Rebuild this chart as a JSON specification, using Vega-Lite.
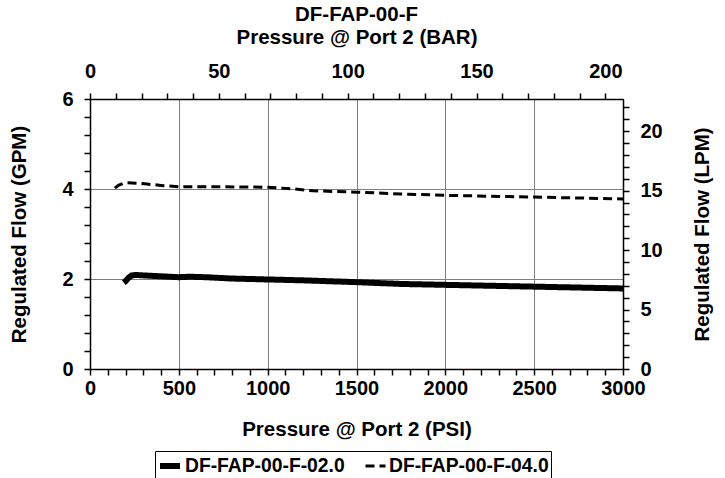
{
  "$schema": "https://vega.github.io/schema/vega-lite/v6.json",
  "width": 533,
  "height": 270,
  "autosize": "none",
  "padding": {"left": 90, "top": 99, "right": 102, "bottom": 109},
  "background": "white",
  "config": {
    "font": "Liberation Sans",
    "view": {"stroke": "black", "strokeWidth": 1},
    "axis": {
      "labelFont": "Liberation Sans",
      "labelFontWeight": "bold",
      "labelFontSize": 20,
      "labelColor": "black",
      "titleFont": "Liberation Sans",
      "titleFontWeight": "bold",
      "titleFontSize": 20.5,
      "titleColor": "black",
      "domainColor": "black",
      "domainWidth": 1.5,
      "labelOverlap": false,
      "labelFlush": false
    }
  },
  "title": {
    "text": "DF-FAP-00-F",
    "font": "Liberation Sans",
    "fontSize": 20.5,
    "fontWeight": "bold",
    "color": "black",
    "offset": 2
  },
  "datasets": {
    "flow": [
      {"series": "DF-FAP-00-F-02.0", "psi": 190, "gpm": 1.92},
      {"series": "DF-FAP-00-F-02.0", "psi": 200, "gpm": 1.95},
      {"series": "DF-FAP-00-F-02.0", "psi": 215, "gpm": 2.02},
      {"series": "DF-FAP-00-F-02.0", "psi": 235, "gpm": 2.08},
      {"series": "DF-FAP-00-F-02.0", "psi": 260, "gpm": 2.09},
      {"series": "DF-FAP-00-F-02.0", "psi": 300, "gpm": 2.08},
      {"series": "DF-FAP-00-F-02.0", "psi": 400, "gpm": 2.06},
      {"series": "DF-FAP-00-F-02.0", "psi": 500, "gpm": 2.04},
      {"series": "DF-FAP-00-F-02.0", "psi": 560, "gpm": 2.05},
      {"series": "DF-FAP-00-F-02.0", "psi": 650, "gpm": 2.04},
      {"series": "DF-FAP-00-F-02.0", "psi": 800, "gpm": 2.01},
      {"series": "DF-FAP-00-F-02.0", "psi": 1000, "gpm": 1.99},
      {"series": "DF-FAP-00-F-02.0", "psi": 1200, "gpm": 1.97},
      {"series": "DF-FAP-00-F-02.0", "psi": 1500, "gpm": 1.93},
      {"series": "DF-FAP-00-F-02.0", "psi": 1750, "gpm": 1.89},
      {"series": "DF-FAP-00-F-02.0", "psi": 2000, "gpm": 1.87},
      {"series": "DF-FAP-00-F-02.0", "psi": 2250, "gpm": 1.85},
      {"series": "DF-FAP-00-F-02.0", "psi": 2500, "gpm": 1.83},
      {"series": "DF-FAP-00-F-02.0", "psi": 2750, "gpm": 1.81},
      {"series": "DF-FAP-00-F-02.0", "psi": 3000, "gpm": 1.79},
      {"series": "DF-FAP-00-F-04.0", "psi": 140, "gpm": 4.02},
      {"series": "DF-FAP-00-F-04.0", "psi": 160, "gpm": 4.08},
      {"series": "DF-FAP-00-F-04.0", "psi": 185, "gpm": 4.12},
      {"series": "DF-FAP-00-F-04.0", "psi": 210, "gpm": 4.14},
      {"series": "DF-FAP-00-F-04.0", "psi": 260, "gpm": 4.13},
      {"series": "DF-FAP-00-F-04.0", "psi": 320, "gpm": 4.11},
      {"series": "DF-FAP-00-F-04.0", "psi": 400, "gpm": 4.08},
      {"series": "DF-FAP-00-F-04.0", "psi": 500, "gpm": 4.05},
      {"series": "DF-FAP-00-F-04.0", "psi": 700, "gpm": 4.05},
      {"series": "DF-FAP-00-F-04.0", "psi": 1000, "gpm": 4.04},
      {"series": "DF-FAP-00-F-04.0", "psi": 1150, "gpm": 4.0},
      {"series": "DF-FAP-00-F-04.0", "psi": 1255, "gpm": 3.96},
      {"series": "DF-FAP-00-F-04.0", "psi": 1500, "gpm": 3.93},
      {"series": "DF-FAP-00-F-04.0", "psi": 1750, "gpm": 3.89},
      {"series": "DF-FAP-00-F-04.0", "psi": 2000, "gpm": 3.86},
      {"series": "DF-FAP-00-F-04.0", "psi": 2250, "gpm": 3.84},
      {"series": "DF-FAP-00-F-04.0", "psi": 2500, "gpm": 3.82},
      {"series": "DF-FAP-00-F-04.0", "psi": 2750, "gpm": 3.8},
      {"series": "DF-FAP-00-F-04.0", "psi": 3000, "gpm": 3.78}
    ],
    "secondary": [
      {"bar": 0, "lpm": 0},
      {"bar": 206.84, "lpm": 22.71}
    ]
  },
  "layer": [
    {
      "data": {"name": "flow"},
      "mark": {"type": "line", "color": "black", "clip": true},
      "encoding": {
        "x": {
          "field": "psi",
          "type": "quantitative",
          "scale": {"domain": [0, 3000], "nice": false, "zero": false},
          "axis": {
            "orient": "bottom",
            "title": "Pressure @ Port 2 (PSI)",
            "values": [0,100,200,300,400,500,600,700,800,900,1000,1100,1200,1300,1400,1500,1600,1700,1800,1900,2000,2100,2200,2300,2400,2500,2600,2700,2800,2900,3000],
            "labelExpr": "datum.value % 500 == 0 ? format(datum.value, 'd') : ''",
            "grid": true,
            "ticks": true,
            "tickSize": 6,
            "tickWidth": 1.5,
            "tickColor": "#000000",
            "gridColor": "#808080",
            "gridWidth": 1,
            "gridOpacity": {"condition": {"test": "datum.value % 500 == 0", "value": 1}, "value": 0},
            "labelPadding": 3,
            "titlePadding": 21
          }
        },
        "y": {
          "field": "gpm",
          "type": "quantitative",
          "scale": {"domain": [0, 6], "nice": false},
          "axis": {
            "orient": "left",
            "title": "Regulated Flow (GPM)",
            "values": [0,0.4,0.8,1.2,1.6,2,2.4,2.8,3.2,3.6,4,4.4,4.8,5.2,5.6,6],
            "labelExpr": "abs(datum.value % 2) < 0.001 ? format(datum.value, 'd') : ''",
            "grid": true,
            "ticks": true,
            "tickSize": 6,
            "tickWidth": 1.5,
            "tickColor": "#000000",
            "gridColor": "#808080",
            "gridWidth": 1,
            "gridOpacity": {"condition": {"test": "abs(datum.value % 2) < 0.001", "value": 1}, "value": 0},
            "labelPadding": 11,
            "titlePadding": 32
          }
        },
        "strokeDash": {
          "field": "series",
          "type": "nominal",
          "scale": {"domain": ["DF-FAP-00-F-02.0", "DF-FAP-00-F-04.0"], "range": [[1, 0], [9, 5]]},
          "legend": {
            "title": null,
            "orient": "none",
            "legendX": 65,
            "legendY": 352,
            "direction": "horizontal",
            "strokeColor": "black",
            "fillColor": "white",
            "padding": 2,
            "labelFont": "Liberation Sans",
            "labelFontWeight": "bold",
            "labelFontSize": 19.3,
            "labelColor": "black",
            "labelOffset": 2,
            "labelLimit": 400,
            "columnPadding": 14,
            "symbolType": "stroke",
            "symbolSize": 400,
            "symbolStrokeWidth": 2,
            "symbolStrokeColor": "black",
            "encode": {"symbols": {"update": {"strokeWidth": {"value": 2}}}}
          }
        },
        "strokeWidth": {
          "field": "series",
          "type": "nominal",
          "scale": {"domain": ["DF-FAP-00-F-02.0", "DF-FAP-00-F-04.0"], "range": [6, 3]},
          "legend": null
        }
      }
    },
    {
      "data": {"name": "secondary"},
      "mark": {"type": "point", "opacity": 0},
      "encoding": {
        "x": {
          "field": "bar",
          "type": "quantitative",
          "scale": {"domain": [0, 206.84], "nice": false, "zero": false},
          "axis": {
            "orient": "top",
            "title": "Pressure @ Port 2 (BAR)",
            "values": [0,10,20,30,40,50,60,70,80,90,100,110,120,130,140,150,160,170,180,190,200],
            "labelExpr": "datum.value % 50 == 0 ? format(datum.value, 'd') : ''",
            "grid": false,
            "ticks": true,
            "tickSize": 6,
            "tickWidth": 1.5,
            "tickColor": "#000000",
            "labelPadding": 12,
            "titlePadding": 14
          }
        },
        "y": {
          "field": "lpm",
          "type": "quantitative",
          "scale": {"domain": [0, 22.71], "nice": false},
          "axis": {
            "orient": "right",
            "title": "Regulated Flow (LPM)",
            "titleAngle": 270,
            "values": [0,1,2,3,4,5,6,7,8,9,10,11,12,13,14,15,16,17,18,19,20,21,22],
            "labelExpr": "datum.value % 5 == 0 ? format(datum.value, 'd') : ''",
            "grid": false,
            "ticks": true,
            "tickSize": 6,
            "tickWidth": 1.5,
            "tickColor": "#000000",
            "labelPadding": 11,
            "titlePadding": 50
          }
        }
      }
    }
  ],
  "resolve": {"scale": {"x": "independent", "y": "independent"}}
}
